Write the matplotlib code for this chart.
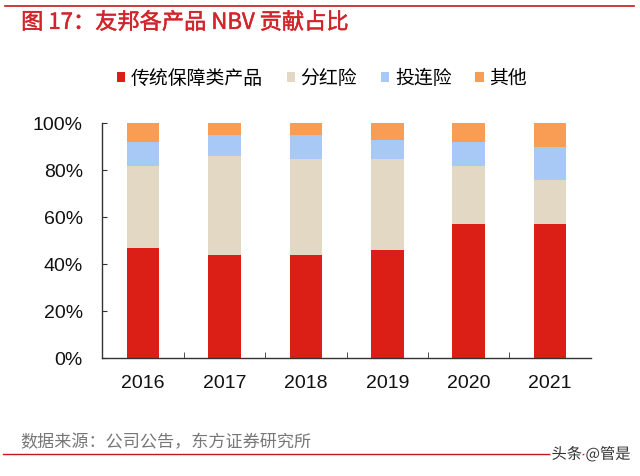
import matplotlib.pyplot as plt
import numpy as np
from matplotlib.lines import Line2D
import matplotlib.patheffects as pe

plt.rcParams["font.family"] = ["Noto Sans CJK SC", "DejaVu Sans"]

years = ["2016", "2017", "2018", "2019", "2020", "2021"]
traditional = [0.47, 0.44, 0.44, 0.46, 0.57, 0.57]
participating = [0.35, 0.42, 0.41, 0.39, 0.25, 0.19]
unit_linked = [0.10, 0.09, 0.10, 0.08, 0.10, 0.14]
others = [0.08, 0.05, 0.05, 0.07, 0.08, 0.10]

series_names = ["传统保障类产品", "分红险", "投连险", "其他"]
series_colors = ["#dc1f16", "#e3d8c3", "#a8c8f6", "#f99d55"]
y_ticks = [0, 0.2, 0.4, 0.6, 0.8, 1.0]
y_tick_labels = ["0%", "20%", "40%", "60%", "80%", "100%"]

num_font = ["Liberation Sans", "Noto Sans CJK SC"]

fig = plt.figure(figsize=(6.4, 4.76), dpi=100)
ax = fig.add_axes([0.16, 0.2473, 0.763, 0.4937])

x = np.arange(len(years))
bottom = np.zeros(len(years))
for values, name, color in zip(
    [traditional, participating, unit_linked, others], series_names, series_colors
):
    ax.bar(x, values, width=0.4, bottom=bottom, color=color, label=name, zorder=2)
    bottom += np.array(values)

ax.set_xlim(-0.5, len(years) - 0.5)
ax.set_ylim(0, 1.0)
ax.set_yticks(y_ticks)
ax.set_yticklabels(y_tick_labels, fontsize=14, color="#111111", family=num_font)
ax.set_xticks(x)
ax.set_xticklabels(years, fontsize=14, color="#111111", family=num_font)
ax.set_xticks(x[:-1] + 0.5, minor=True)
ax.tick_params(axis="x", which="major", length=0, pad=12)
ax.tick_params(axis="x", which="minor", direction="in", length=4, color="#333333")
ax.tick_params(axis="y", direction="in", length=3.5, pad=14, color="#333333")
for side in ["top", "right"]:
    ax.spines[side].set_visible(False)
for side in ["left", "bottom"]:
    ax.spines[side].set_color("#333333")
    ax.spines[side].set_linewidth(1.0)

handles, labels = ax.get_legend_handles_labels()
fig.legend(
    handles,
    labels,
    loc="center",
    bbox_to_anchor=(0.503, 0.836),
    ncol=4,
    frameon=False,
    fontsize=13.6,
    handlelength=0.45,
    handleheight=0.45,
    handletextpad=0.3,
    columnspacing=1.25,
)

red = "#c8161d"
fig.add_artist(Line2D([0.008, 0.99], [0.988, 0.988], color=red, linewidth=1.2))
fig.add_artist(Line2D([0.005, 0.985], [0.0456, 0.0456], color=red, linewidth=1.0))

fig.text(0.033, 0.953, "图 17：友邦各产品 NBV 贡献占比", color="#d2252b",
         fontsize=16, va="center", ha="left",
         path_effects=[pe.withStroke(linewidth=0.35, foreground="#d2252b")])
fig.text(0.031, 0.0704, "数据来源：公司公告，东方证券研究所", color="#777777",
         fontsize=12.3, va="center", ha="left")
fig.text(0.985, 0.0456, "头条 @管是", color="#333333", fontsize=11,
         va="center", ha="right",
         path_effects=[pe.withStroke(linewidth=3, foreground="white")])

fig.savefig("out.png", dpi=100)
